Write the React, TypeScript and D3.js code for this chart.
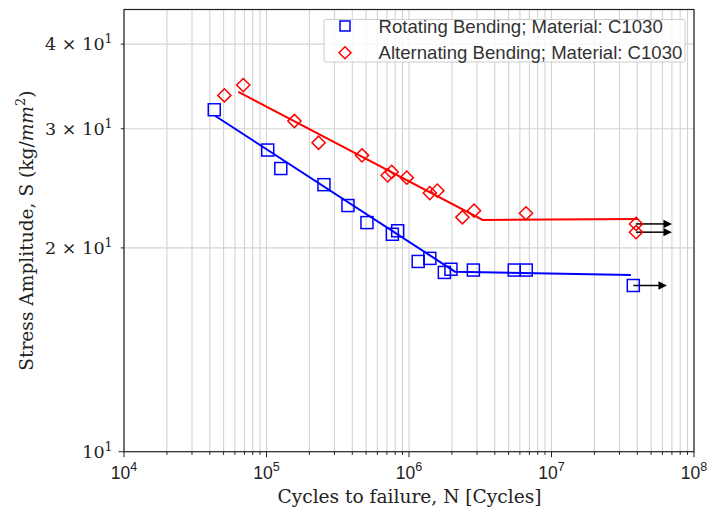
import React from "react";
import * as d3 from "d3";

// ---- data ----
const rotN = [4.3e4, 1.02e5, 1.26e5, 2.53e5, 3.73e5, 5.07e5, 7.64e5, 8.33e5, 1.16e6, 1.4e6, 1.77e6, 1.97e6, 2.83e6, 5.48e6, 6.65e6, 3.75e7];
const rotS = [32.0, 27.9, 26.2, 24.8, 23.1, 21.8, 20.95, 21.2, 19.1, 19.3, 18.4, 18.6, 18.55, 18.55, 18.55, 17.6];
const altN = [5.06e4, 6.87e4, 1.57e5, 2.32e5, 4.68e5, 7.09e5, 7.56e5, 9.64e5, 1.4e6, 1.58e6, 2.37e6, 2.86e6, 6.62e6, 3.92e7, 3.92e7];
const altS = [33.6, 34.8, 30.8, 28.6, 27.4, 25.6, 25.9, 25.4, 24.1, 24.3, 22.2, 22.7, 22.5, 21.7, 21.1];
const rotFitN = [4.35e4, 2.1e6, 3.61e7];
const rotFitS = [31.35, 18.45, 18.24];
const altFitN = [6.34e4, 3.29e6, 4.03e7];
const altFitS = [34.0, 22.0, 22.07];
const runoutStartN = [3.75e7, 3.92e7, 3.92e7];
const runoutEndN = [6.46e7, 7.0e7, 7.0e7];
const runoutS = [17.6, 21.7, 21.1];
const xMajorExp = [4, 5, 6, 7, 8];
const yTickVals = [10, 20, 30, 40];
const yTickMant = ["", "2", "3", "4"];
const legendLabels = ["Rotating Bending; Material: C1030", "Alternating Bending; Material: C1030"];

const W = 710, H = 510;
const L = 124, R = 694, T = 9.5, B = 451.7;
const SANS = "'Liberation Sans', Arial, sans-serif";
const SERIF = "'DejaVu Serif', serif";

export default function App() {
  const x = d3.scaleLog().domain([1e4, 1e8]).range([L, R]);
  const y = d3.scaleLog().domain([10, 45]).range([B, T]);

  const minorX: number[] = [];
  for (let e = 4; e < 8; e++) for (let m = 2; m <= 9; m++) minorX.push(m * Math.pow(10, e));

  const line = d3.line<[number, number]>().x(d => x(d[0])).y(d => y(d[1]));
  const rotFit = line(rotFitN.map((n, i) => [n, rotFitS[i]]));
  const altFit = line(altFitN.map((n, i) => [n, altFitS[i]]));

  const sq = 12;
  const dm = 6.6;
  const diamond = (cx: number, cy: number) =>
    `M${cx},${cy - dm}L${cx + dm},${cy}L${cx},${cy + dm}L${cx - dm},${cy}Z`;

  return (
    <svg width={W} height={H} style={{ position: "absolute", left: 0, top: 0, background: "#fff" }}>
      <rect x={0} y={0} width={W} height={H} fill="#fff" />
      {/* grid */}
      <g stroke="#d3d3d3" strokeWidth={1.1}>
        {minorX.concat(xMajorExp.map(e => Math.pow(10, e))).map((v, i) => (
          <line key={"gx" + i} x1={x(v)} x2={x(v)} y1={T} y2={B} />
        ))}
        {yTickVals.slice(1).map((v, i) => (
          <line key={"gy" + i} x1={L} x2={R} y1={y(v)} y2={y(v)} />
        ))}
      </g>
      {/* fits */}
      <path d={rotFit || ""} fill="none" stroke="#0000ff" strokeWidth={2} />
      <path d={altFit || ""} fill="none" stroke="#ff0000" strokeWidth={2} />
      {/* runout arrows */}
      <g>
        {runoutS.map((s, i) => {
          const x0 = x(runoutStartN[i]);
          const x1 = x(runoutEndN[i]);
          const yy = y(s);
          return (
            <g key={"ar" + i}>
              <line x1={x0} x2={x1 - 7} y1={yy} y2={yy} stroke="#000" strokeWidth={1.5} />
              <path d={`M${x1},${yy}L${x1 - 8.5},${yy - 4.2}L${x1 - 8.5},${yy + 4.2}Z`} fill="#000" />
            </g>
          );
        })}
      </g>
      {/* markers */}
      <g fill="none" stroke="#0000ff" strokeWidth={1.5}>
        {rotN.map((n, i) => (
          <rect key={"r" + i} x={x(n) - sq / 2} y={y(rotS[i]) - sq / 2} width={sq} height={sq} />
        ))}
      </g>
      <g fill="none" stroke="#ff0000" strokeWidth={1.5}>
        {altN.map((n, i) => (
          <path key={"a" + i} d={diamond(x(n), y(altS[i]))} />
        ))}
      </g>
      {/* frame */}
      <rect x={L} y={T} width={R - L} height={B - T} fill="none" stroke="#222" strokeWidth={1.2} />
      {/* ticks */}
      <g stroke="#222" strokeWidth={1}>
        {xMajorExp.map(e => (
          <line key={"xt" + e} x1={x(Math.pow(10, e))} x2={x(Math.pow(10, e))} y1={B} y2={B + 5.5} />
        ))}
        {minorX.map((v, i) => (
          <line key={"xm" + i} x1={x(v)} x2={x(v)} y1={B} y2={B + 3.2} />
        ))}
        {yTickVals.map((v, i) => (
          <line key={"yt" + i} x1={L - (i === 0 ? 5.5 : 3.2)} x2={L} y1={y(v)} y2={y(v)} />
        ))}
      </g>
      {/* x tick labels */}
      <g fontFamily={SANS} fontSize={17.5} fill="#222">
        {xMajorExp.map(e => (
          <text key={"xl" + e} x={x(Math.pow(10, e))} y={478.5} textAnchor="middle">
            10<tspan dy={-8} fontSize={12.5}>{e}</tspan>
          </text>
        ))}
      </g>
      {/* y tick labels */}
      <g fontFamily={SERIF} fontSize={17.5} fill="#222">
        {yTickVals.map((v, i) => (
          <text key={"yl" + i} x={112.5} y={y(v) + 6.3} textAnchor="end" style={{ whiteSpace: "pre" }}>
            {yTickMant[i] ? yTickMant[i] + "\u2004\u00d7\u2004" : ""}10<tspan dy={-7.5} fontSize={12.5}>1</tspan>
          </text>
        ))}
      </g>
      {/* axis labels */}
      <text x={(L + R) / 2 + 0.5} y={503} textAnchor="middle" fontFamily={SERIF} fontSize={18.6} fill="#222">
        Cycles to failure, N [Cycles]
      </text>
      <text transform={`translate(32.5,${(T + B) / 2}) rotate(-90)`} textAnchor="middle" fontFamily={SERIF} fontSize={18.6} fill="#222">
        Stress Amplitude, S (kg/<tspan fontStyle="italic">mm</tspan><tspan dy={-7.5} fontSize={13}>2</tspan><tspan dy={7.5}>)</tspan>
      </text>
      {/* legend */}
      <g>
        <rect x={324} y={19.5} width={361} height={42.5} rx={2} fill="#fff" fillOpacity={0.8} stroke="#cccccc" strokeWidth={1} />
        <rect x={345 - 5} y={26 - 5} width={10} height={10} fill="none" stroke="#0000ff" strokeWidth={1.5} />
        <path d={`M345,${52.7 - 6}L351,52.7L345,${52.7 + 6}L339,52.7Z`} fill="none" stroke="#ff0000" strokeWidth={1.5} />
        <text x={378.5} y={32.5} fontFamily={SANS} fontSize={18.6} fill="#333">{legendLabels[0]}</text>
        <text x={378.5} y={59.2} fontFamily={SANS} fontSize={18.6} fill="#333">{legendLabels[1]}</text>
      </g>
    </svg>
  );
}
